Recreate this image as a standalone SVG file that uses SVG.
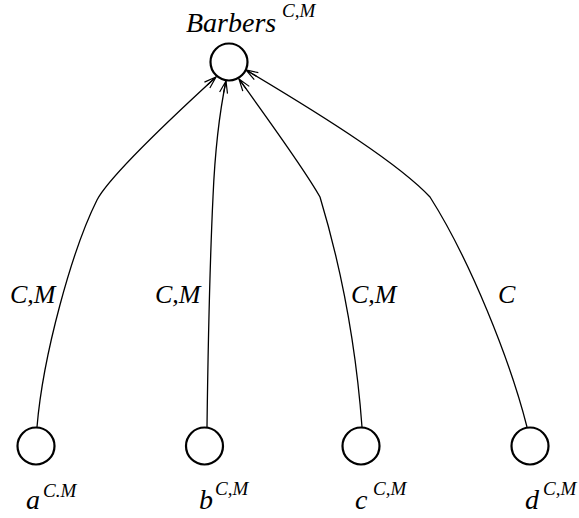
<svg xmlns="http://www.w3.org/2000/svg" width="579" height="518" viewBox="0 0 579 518">
<style>
.node{fill:none;stroke:#000;stroke-width:2.2}
.edge{fill:none;stroke:#000;stroke-width:1.3}
text{font-family:"Liberation Serif","Times New Roman","DejaVu Serif",serif;font-style:italic;fill:#000}
.big{font-size:28px}
.sup{font-size:19px}
.el{font-size:26px}
</style>
<defs>
<marker id="arr" markerWidth="14" markerHeight="10" refX="13" refY="5" orient="auto" markerUnits="userSpaceOnUse">
<path d="M1,1 L13,5 L1,9 M1,5 L13,5" fill="none" stroke="#000" stroke-width="1.2"/>
</marker>
</defs>
<g id="connectors">
<path class="edge" marker-end="url(#arr)" d="M37,427 C43,355 72,250 97,200 C110,175 180,110 216,77"/>
<path class="edge" marker-end="url(#arr)" d="M207,427 C208,350 210,260 213,197 C215,150 220,110 226,81"/>
<path class="edge" marker-end="url(#arr)" d="M362,427 C357,360 345,280 320,197 C305,170 265,115 239,79"/>
<path class="edge" marker-end="url(#arr)" d="M527,427 C510,360 470,260 430,197 C400,165 330,120 246,70"/>
<text class="el" x="10" y="303">C,M</text>
<text class="el" x="155" y="303">C,M</text>
<text class="el" x="351" y="303">C,M</text>
<text class="el" x="498" y="303">C</text>
</g>
<g id="barbers">
<circle class="node" cx="229" cy="62" r="18.5"/>
<text class="big" x="186" y="32">Barbers</text>
<text class="sup" x="282" y="17">C,M</text>
</g>
<g id="a">
<circle class="node" cx="36" cy="446" r="18.5"/>
<text class="big" x="26" y="509">a</text>
<text class="sup" x="43" y="497">C.M</text>
</g>
<g id="b">
<circle class="node" cx="204.5" cy="446" r="18.5"/>
<text class="big" x="199" y="509">b</text>
<text class="sup" x="215" y="495">C,M</text>
</g>
<g id="c">
<circle class="node" cx="361" cy="446" r="18.5"/>
<text class="big" x="355" y="509">c</text>
<text class="sup" x="373" y="495">C,M</text>
</g>
<g id="d">
<circle class="node" cx="530" cy="446" r="18.5"/>
<text class="big" x="525" y="509">d</text>
<text class="sup" x="543" y="495">C,M</text>
</g>
</svg>
